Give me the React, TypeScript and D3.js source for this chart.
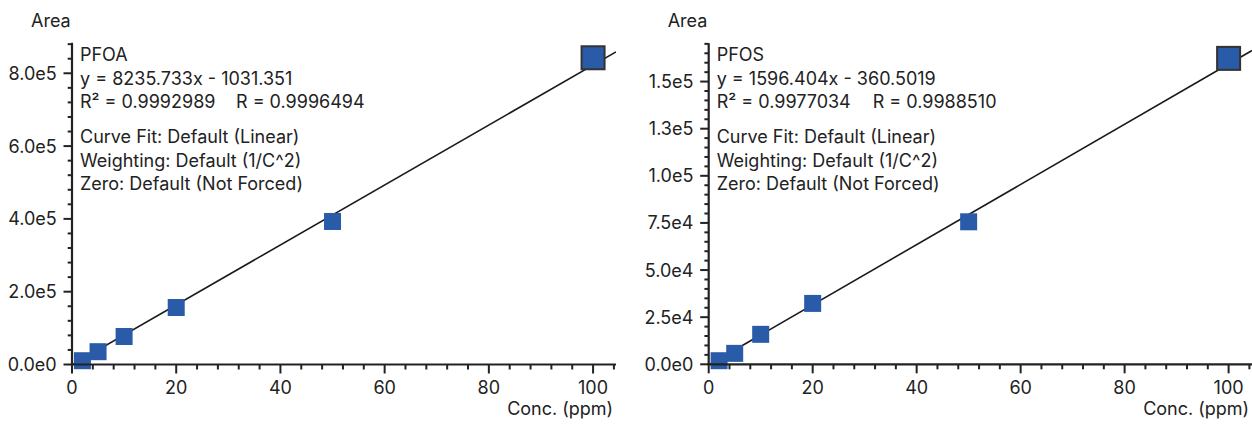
import React from "react";
import * as d3 from "d3";

// ---- data ----
const concentrations = [2, 5, 10, 20, 50, 100];
const pfoaAreas = [10400, 35200, 76900, 156600, 392900, 842600];
const pfosAreas = [1900, 5800, 15900, 32300, 75600, 162300];

const pfoaFit = { slope: 8235.733, intercept: -1031.351 };
const pfosFit = { slope: 1596.404, intercept: -360.5019 };

const pfoaHeader = ["PFOA", "y = 8235.733x - 1031.351"];
const pfoaStats = ["R² = 0.9992989", "R = 0.9996494"];
const pfosHeader = ["PFOS", "y = 1596.404x - 360.5019"];
const pfosStats = ["R² = 0.9977034", "R = 0.9988510"];
const fitInfoLines = [
  "Curve Fit: Default (Linear)",
  "Weighting: Default (1/C^2)",
  "Zero: Default (Not Forced)",
];

const xMajorTicks = [0, 20, 40, 60, 80, 100];
const pfoaYMajor = [0, 200000, 400000, 600000, 800000];
const pfosYMajor = [0, 25000, 50000, 75000, 100000, 125000, 150000];

const FONT = "Inter, 'Open Sans', sans-serif";
const TEXT = "#222";
const SQUARE = "#2A5BA8";

type PanelProps = {
  x0: number;
  x1: number;
  xMax: number;
  yTop: number;
  yBottom: number;
  yMax: number;
  yMajor: number[];
  yMinorStep: number;
  areas: number[];
  fit: { slope: number; intercept: number };
  header: string[];
  stats: string[];
  id: string;
};

function fmtExp(v: number) {
  return v.toExponential(1).replace("+", "");
}

function Panel(p: PanelProps) {
  const x = d3.scaleLinear().domain([0, p.xMax]).range([p.x0, p.x1]);
  const y = d3.scaleLinear().domain([0, p.yMax]).range([p.yBottom, p.yTop]);
  const xMinor = d3.range(0, p.xMax + 0.001, 4).filter((v) => v % 20 !== 0);
  const yMinor = d3
    .range(0, p.yMax + 1, p.yMinorStep)
    .filter((v) => !p.yMajor.includes(v));
  const lineGen = d3
    .line<number>()
    .x((d) => x(d))
    .y((d) => y(p.fit.slope * d + p.fit.intercept));
  const lineXs = [0, p.xMax];
  const n = concentrations.length;
  const fs = 18;
  const tx = p.x0 + 8;
  return (
    <g fontFamily={FONT} fill={TEXT}>
      <defs>
        <clipPath id={`clip-${p.id}`}>
          <rect x={p.x0} y={p.yTop} width={p.x1 - p.x0} height={p.yBottom - p.yTop} />
        </clipPath>
      </defs>
      <text x={p.x0 - 1.3} y={27} fontSize={fs} textAnchor="end">
        Area
      </text>
      {/* annotations */}
      {p.header.map((t, i) => (
        <text key={"h" + i} x={tx} y={61 + i * 23.6} fontSize={fs}>
          {t}
        </text>
      ))}
      <text x={tx} y={108.3} fontSize={fs}>
        {p.stats[0]}
      </text>
      <text x={tx + 156} y={108.3} fontSize={fs}>
        {p.stats[1]}
      </text>
      {fitInfoLines.map((t, i) => (
        <text key={"f" + i} x={tx} y={143 + i * 23.5} fontSize={fs}>
          {t}
        </text>
      ))}
      {/* regression line */}
      <path
        d={lineGen(lineXs) || ""}
        stroke="#1a1a1a"
        strokeWidth={1.6}
        fill="none"
        clipPath={`url(#clip-${p.id})`}
      />
      {/* points */}
      {concentrations.map((c, i) => {
        const last = i === n - 1;
        const s = last ? 23 : 17;
        return (
          <rect
            key={i}
            x={x(c) - s / 2}
            y={y(p.areas[i]) - s / 2}
            width={s}
            height={s}
            fill={SQUARE}
            stroke={last ? "#333" : "none"}
            strokeWidth={last ? 2 : 0}
          />
        );
      })}
      {/* axes */}
      <line x1={p.x0} x2={p.x0} y1={p.yTop} y2={p.yBottom + 1} stroke="#222" strokeWidth={2.2} />
      <line x1={p.x0 - 1} x2={p.x1} y1={p.yBottom} y2={p.yBottom} stroke="#222" strokeWidth={2.2} />
      {p.yMajor.map((v) => (
        <g key={"ym" + v}>
          <line x1={p.x0 - 8.5} x2={p.x0} y1={y(v)} y2={y(v)} stroke="#222" strokeWidth={2} />
          <text x={p.x0 - 15.3} y={y(v)} dy="0.36em" fontSize={fs} textAnchor="end">
            {fmtExp(v)}
          </text>
        </g>
      ))}
      {yMinor.map((v) => (
        <line key={"yn" + v} x1={p.x0 - 4.3} x2={p.x0} y1={y(v)} y2={y(v)} stroke="#222" strokeWidth={2} />
      ))}
      {xMajorTicks.map((v) => (
        <g key={"xm" + v}>
          <line x1={x(v)} x2={x(v)} y1={p.yBottom} y2={p.yBottom + 9} stroke="#222" strokeWidth={2} />
          <text x={x(v)} y={393.5} fontSize={fs} textAnchor="middle">
            {v}
          </text>
        </g>
      ))}
      {xMinor.map((v) => (
        <line key={"xn" + v} x1={x(v)} x2={x(v)} y1={p.yBottom} y2={p.yBottom + 5} stroke="#222" strokeWidth={2} />
      ))}
      <text x={p.x1 - 2.8} y={415} fontSize={fs} textAnchor="end">
        Conc. (ppm)
      </text>
    </g>
  );
}

export default function App() {
  return (
    <svg
      width={1252}
      height={425}
      style={{ position: "absolute", left: 0, top: 0, background: "#fff" }}
    >
      <Panel
        id="pfoa"
        x0={72}
        x1={616}
        xMax={104.4}
        yTop={42.7}
        yBottom={364.5}
        yMax={884000}
        yMajor={pfoaYMajor}
        yMinorStep={40000}
        areas={pfoaAreas}
        fit={pfoaFit}
        header={pfoaHeader}
        stats={pfoaStats}
      />
      <Panel
        id="pfos"
        x0={708.7}
        x1={1252}
        xMax={104.5}
        yTop={43.3}
        yBottom={364.3}
        yMax={170300}
        yMajor={pfosYMajor}
        yMinorStep={5000}
        areas={pfosAreas}
        fit={pfosFit}
        header={pfosHeader}
        stats={pfosStats}
      />
    </svg>
  );
}
